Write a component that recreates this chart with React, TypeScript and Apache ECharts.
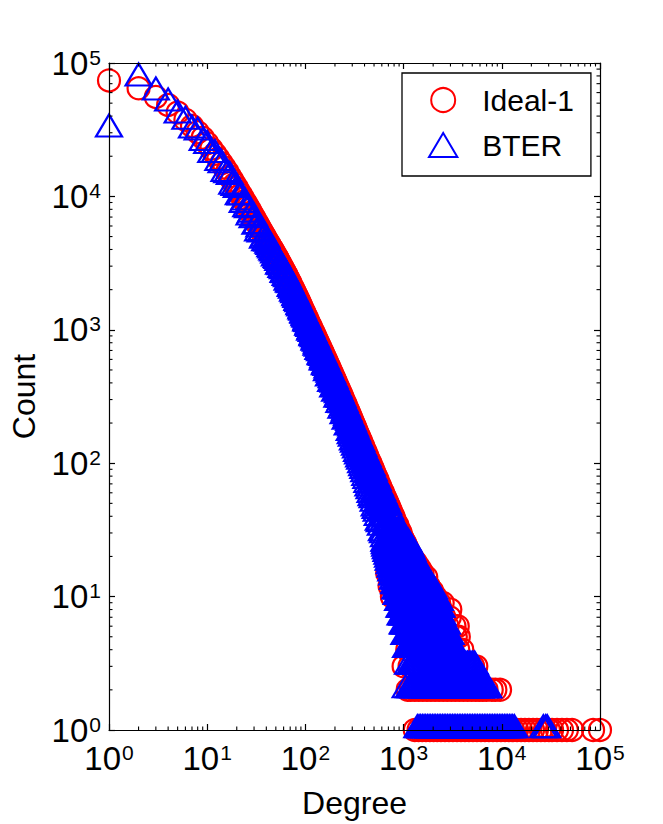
import React, { useEffect, useRef } from 'react';
import * as echarts from 'echarts';

const FONT = '"Liberation Sans", Arial, Helvetica, sans-serif';

// ---- axis ticks ----
const tickExponents = [0, 1, 2, 3, 4, 5];
const minorMantissas = [2, 3, 4, 5, 6, 7, 8, 9];
const minorDecades = [1, 10, 100, 1000, 10000];

// ---- head: individual low degrees ----
const headDegrees = [1, 2, 3, 4, 5, 6, 7, 8, 9, 10, 11, 12, 13, 14, 15, 16, 17, 18, 19, 20,
  21, 22, 23, 24, 25, 26, 27, 28, 29, 30, 31, 32, 33, 34, 35, 36, 37, 38, 39, 40];
const idealHeadCounts = [74000, 64600, 55600, 48400, 42500, 37600, 33700, 30300, 27500, 25000,
  22750, 20900, 19270, 17750, 16440, 15300, 14190, 13210, 12350, 11590,
  10890, 10280, 9730, 9230, 8770, 8330, 7930, 7570, 7230, 6920,
  6620, 6360, 6100, 5870, 5660, 5460, 5260, 5080, 4920, 4760];
const bterHeadCounts = [31900, 76900, 60400, 50000, 40600, 36500, 31300, 30300, 25300, 24000,
  20500, 20500, 17900, 17200, 14800, 14500, 14050, 11900, 11600, 11240,
  9910, 9870, 8660, 9050, 8070, 7910, 6980, 7340, 6650, 6850,
  5960, 6040, 5310, 5690, 5210, 5350, 4680, 4830, 4480, 4710];

// ---- body: dense band ----
const bodyDegrees = [41, 42, 43, 44, 45, 46, 47, 48, 50, 51,
  52, 53, 55, 56, 58, 59, 61, 62, 64, 65,
  67, 69, 70, 72, 74, 76, 78, 80, 82, 84,
  86, 88, 90, 92, 94, 97, 99, 102, 104, 107,
  109, 112, 115, 118, 121, 124, 127, 130, 133, 136,
  140, 143, 147, 150, 154, 158, 162, 166, 170, 174,
  178, 183, 187, 192, 197, 201, 206, 212, 217, 222,
  228, 233, 239, 245, 251, 257, 263, 270, 276, 283,
  290, 297, 305, 312, 320, 328, 336, 344, 353, 361,
  370, 379, 389, 398, 408, 418, 428, 439, 450, 461,
  472, 484, 496, 508, 520, 533, 546, 560, 573, 587,
  602, 617, 632, 647, 663, 680, 696, 714, 731, 749,
  768, 786, 806, 826, 846, 867, 888, 910, 932, 955,
  979, 1003];
const idealBodyCounts = [4610, 4480, 4350, 4220, 4110, 3995, 3890, 3790, 3600, 3505,
  3415, 3330, 3165, 3090, 2945, 2880, 2750, 2690, 2575, 2515,
  2404, 2300, 2250, 2158, 2071, 1990, 1914, 1841, 1770, 1703,
  1641, 1581, 1525, 1472, 1422, 1352, 1309, 1248, 1210, 1156,
  1122, 1075, 1030, 988, 950, 913, 879, 847, 816, 788,
  752, 727, 695, 673, 646, 619, 595, 571, 550, 529,
  509, 486, 469, 449, 431, 417, 399, 380, 365, 352,
  336, 324, 310, 297, 285, 274, 263, 251, 242, 231,
  222, 213, 203, 195, 187, 179, 171, 164, 157, 151,
  145, 139, 133, 127, 122, 117, 112, 107, 103, 99,
  95, 91, 87, 83, 80, 77, 74, 70, 68, 65,
  62, 60, 57, 55, 53, 51, 49, 47, 45, 43,
  41, 40, 38, 36, 35, 34, 32, 31, 30, 28,
  27, 26];
const bterBodyCounts = [4440, 4290, 4190, 4040, 3950, 3820, 3745, 3630, 3465, 3360,
  3290, 3190, 3045, 2960, 2835, 2760, 2645, 2575, 2478, 2410,
  2315, 2200, 2165, 2068, 1992, 1905, 1840, 1762, 1702, 1630,
  1580, 1512, 1468, 1408, 1368, 1294, 1260, 1194, 1165, 1106,
  1080, 1028, 992, 945, 915, 872, 846, 810, 786, 752,
  724, 695, 669, 643, 622, 591, 573, 545, 530, 505,
  490, 464, 452, 428, 415, 397, 385, 362, 352, 336,
  324, 309, 299, 283, 275, 261, 253, 239, 233, 220,
  214, 203, 196, 186, 180, 171, 165, 156, 151, 144,
  140, 132, 128, 121, 117, 111, 108, 102, 99, 94,
  92, 86, 84, 79, 77, 73, 71, 66, 65, 61,
  60, 57, 55, 52, 51, 48, 47, 44, 43, 40,
  39, 38, 36, 35, 34, 33, 31, 30, 29, 27,
  26, 25];
// middle scatter of the BTER band
const bterMidDegrees = [49, 54, 57, 60, 63, 66, 68, 71, 73, 75,
  77, 79, 81, 83, 85, 87, 89, 91, 93, 95,
  96, 98, 100, 103, 105, 108, 110, 113, 116, 119,
  122, 125, 128, 131, 134, 138, 141, 145, 148, 152,
  156, 160, 164, 168, 172, 176, 180, 185, 189, 194,
  199, 203, 209, 214, 219, 225, 230, 236, 242, 248,
  254, 260, 266, 273, 279, 286, 293, 301, 308, 316,
  324, 332, 340, 348, 357, 365, 374, 384, 393, 403,
  413, 423, 433, 444, 455, 466, 478, 490, 502, 514,
  526, 539, 553, 566, 580, 594, 609, 624, 639, 655,
  671, 688, 705, 722, 740, 758, 777, 796, 816, 836,
  856, 877, 899, 921, 943, 967, 991];
const bterMidCounts = [3440, 2990, 2820, 2590, 2460, 2265, 2200, 2030, 1975, 1870,
  1825, 1730, 1685, 1600, 1560, 1485, 1450, 1380, 1350, 1290,
  1282, 1228, 1200, 1143, 1109, 1048, 1018, 975, 935, 887,
  854, 821, 790, 762, 726, 693, 670, 640, 619, 594,
  569, 540, 519, 498, 480, 462, 440, 420, 406, 389,
  373, 361, 339, 325, 313, 299, 288, 273, 261, 250,
  240, 228, 219, 209, 201, 191, 183, 175, 167, 159,
  152, 145, 137, 132, 126, 120, 115, 110, 104, 99,
  95, 90, 87, 82, 79, 75, 72, 68, 65, 61,
  59, 56, 53, 50, 48, 46, 43, 42, 39, 38,
  36, 34, 33, 31, 29, 28, 26, 25, 24, 22,
  21, 20, 19, 18, 17, 16, 15];
// lower scatter of the BTER band
const bterLowerDegrees = [102, 107, 112, 118, 124, 130, 136, 143, 150, 158,
  166, 174, 183, 192, 201, 212, 222, 233, 245, 257, 270, 283,
  290, 297, 305, 312, 320, 328, 336, 344, 353, 361,
  370, 379, 389, 398, 408, 418, 428, 439, 450, 461,
  472, 484, 496, 508, 520, 533, 546, 560, 573, 587,
  602, 617, 632, 647, 663, 680, 696, 714, 731, 749,
  768, 786, 806, 826, 846, 867, 888, 910, 932, 955,
  979, 1003];
const bterLowerCounts = [1123, 1040, 957, 869, 803, 737, 686, 625, 572, 526,
  474, 434, 394, 359, 334, 300, 275, 249, 226, 206, 186, 169,
  160, 153, 144, 138, 131, 125, 118, 113, 107, 103,
  97, 92, 88, 83, 78, 74, 69, 65, 62, 58,
  55, 53, 50, 46, 44, 42, 39, 36, 35, 33,
  30, 29, 27, 25, 24, 22, 21, 20, 18, 17,
  16, 15, 14, 13, 12, 11, 10, 9, 8, 8,
  7, 6];

// ---- tail: low counts (count level -> degrees having that count) ----
const tailCountLevels = [1, 2, 3, 4, 5, 6, 7, 8, 9, 10, 11, 12, 13, 14, 15, 16, 17, 18, 19, 20, 21, 22, 23, 24, 25];
const idealTailDegrees = [
  [1300, 1420, 1550, 1690, 1850, 2020, 2200, 2400, 2640, 2900, 3180, 3500, 3840, 4220, 4630, 5090, 5590, 6140, 6740, 7400,
    8130, 8930, 9800, 10800, 11800, 13000, 14300, 15700, 17200, 18900, 20800, 22800, 25000, 27500, 30200, 32500, 36500,
    41000, 46000, 52000, 85000, 100000],
  [1100, 1180, 1300, 1430, 1570, 1730, 1900, 2090, 2300, 2530, 2780, 3060, 3360, 3700, 4070, 4480, 4930, 5420, 5900,
    6400, 7000, 7900, 8600, 9600],
  [1000, 1150, 1350, 1600, 1900, 2250, 2650, 3100, 3600, 4200, 4700, 5100, 5500],
  [1090, 1300, 1550, 1850, 2200, 2600, 3100, 3600, 3960],
  [1200, 1500, 1900, 2400, 2900, 3400, 3650],
  [1150, 1450, 1850, 2300, 2800, 3300, 3560],
  [1250, 1650, 2100, 2600, 2950],
  [1350, 1800, 2400, 2990],
  [1300, 1750, 2300, 2500],
  [760, 1250, 1700, 2100],
  [1200, 1600, 1950],
  [720, 1150, 1500, 1800],
  [1100, 1450],
  [1050, 1400, 1700],
  [680, 1000, 1350, 1560],
  [1300, 1480],
  [1250, 1400],
  [1200, 1330],
  [1150, 1260],
  [1100, 1200],
  [1060, 1150],
  [1030, 1120],
  [1010, 1090],
  [1005, 1060],
  [1000, 1040],
];
const bterTailDegrees = [
  [1381, 1436, 1493, 1553, 1615, 1680, 1747, 1817, 1890, 1965, 2044, 2126, 2211, 2299, 2391, 2487, 2586, 2690, 2797,
    2909, 3026, 3147, 3272, 3403, 3539, 3681, 3828, 3981, 4141, 4306, 4479, 4658, 4844, 5038, 5240, 5449, 5667, 5894,
    6130, 6375, 6630, 6895, 7171, 7458, 7756, 8066, 8389, 8724, 9073, 9436, 9814, 10206, 10614, 11039, 11481, 11940,
    12417, 12914, 13431, 26500, 28000, 29000],
  [1050, 1135, 1180, 1227, 1277, 1328, 1381, 1436, 1493, 1553, 1615, 1680, 1747, 1817, 1890, 1965, 2044, 2126, 2211,
    2299, 2391, 2487, 2586, 2690, 2797, 2909, 3026, 3147, 3272, 3403, 3539, 3681, 3828, 3981, 4141, 4306, 4479, 4658,
    4844, 5038, 5240, 5449, 5667, 5894, 6130, 6375, 6630, 6895, 7171, 7280],
  [1110, 1180, 1227, 1277, 1328, 1381, 1436, 1493, 1553, 1615, 1680, 1747, 1817, 1890, 1965, 2044, 2126, 2211, 2299,
    2391, 2487, 2586, 2690, 2797, 2909, 3026, 3147, 3272, 3403, 3539, 3681, 3828, 3981, 4141, 4306, 4479, 4658, 4844,
    5038, 5240, 5300],
  [1060, 1091, 1135, 1180, 1227, 1277, 1328, 1381, 1436, 1493, 1553, 1615, 1680, 1747, 1817, 1890, 1965, 2044, 2126,
    2211, 2299, 2391, 2487, 2586, 2690, 2797, 2909, 3026, 3147, 3272, 3360],
  [1020, 1049, 1091, 1135, 1180, 1227, 1277, 1328, 1381, 1436, 1493, 1553, 1615, 1680, 1747, 1817, 1890, 1965, 2044,
    2126, 2211, 2299, 2391, 2487, 2586, 2690, 2797, 2909, 3000],
  [980, 1009, 1049, 1091, 1135, 1180, 1227, 1277, 1328, 1381, 1436, 1493, 1553, 1615, 1680, 1747, 1817, 1890, 1965,
    2044, 2126, 2211, 2299, 2391, 2487, 2586, 2690, 2750],
  [933, 970, 1009, 1049, 1091, 1135, 1180, 1227, 1277, 1328, 1381, 1436, 1493, 1553, 1615, 1680, 1747, 1817, 1890,
    1965, 2044, 2126, 2211, 2299, 2391, 2487],
  [910, 933, 970, 1009, 1049, 1091, 1135, 1180, 1227, 1277, 1328, 1381, 1436, 1493, 1553, 1615, 1680, 1747, 1817,
    1890, 1965, 2044, 2126, 2211, 2299, 2391, 2420],
  [880, 897, 933, 970, 1009, 1049, 1091, 1135, 1180, 1227, 1277, 1328, 1381, 1436, 1493, 1553, 1615, 1680, 1747,
    1817, 1890, 1965, 2044, 2126, 2211, 2299, 2330],
  [850, 880, 915, 950, 990, 1030, 1070, 1110, 1155, 1200, 1250, 1300, 1350, 1405, 1460, 1520, 1580, 1645, 1710, 1780,
    1850, 1925, 2000, 2080, 2140],
  [825, 875, 927, 983, 1042, 1104, 1170, 1241, 1315, 1394, 1478, 1566, 1660, 1760, 1866, 1978, 2040],
  [800, 848, 899, 953, 1010, 1071, 1135, 1203, 1275, 1352, 1433, 1519, 1610, 1707, 1809, 1860],
  [780, 827, 876, 929, 985, 1044, 1106, 1173, 1243, 1318, 1397, 1481, 1570, 1664, 1780],
  [765, 811, 860, 911, 966, 1024, 1085, 1150, 1219, 1292, 1370, 1452, 1539, 1620],
  [750, 795, 843, 893, 947, 1004, 1064, 1128, 1195, 1267, 1343, 1424, 1520],
  [735, 808, 889, 978, 1076, 1184, 1302, 1450],
  [720, 792, 871, 958, 1054, 1159, 1275, 1400],
  [705, 776, 853, 938, 1032, 1135, 1249, 1350],
  [695, 765, 841, 925, 1018, 1120, 1232, 1300],
  [685, 754, 829, 912, 1003, 1103, 1214, 1260],
  [670, 737, 811, 892, 981, 1079, 1187, 1230],
  [660, 726, 799, 879, 967, 1064, 1170, 1200],
  [650, 715, 787, 865, 952, 1047, 1170],
  [645, 710, 781, 859, 945, 1039, 1140],
  [638, 702, 772, 849, 934, 1027, 1110],
];

const RED = '#ff0000';
const BLUE = '#0000ff';
const MARKER_LINE = 2.2;

function pairs(degrees: number[], counts: number[]) {
  return degrees.map((d, i) => [d, counts[i]]);
}
function tailPairs(tail: number[][]) {
  const out: number[][] = [];
  tailCountLevels.forEach((k, i) => tail[i].forEach((d) => out.push([d, k])));
  return out;
}

const idealData = [
  ...pairs(headDegrees, idealHeadCounts),
  ...pairs(bodyDegrees, idealBodyCounts),
  ...tailPairs(idealTailDegrees),
];
const bterData = [
  ...pairs(headDegrees, bterHeadCounts),
  ...pairs(bodyDegrees, bterBodyCounts),
  ...pairs(bterMidDegrees, bterMidCounts),
  ...pairs(bterLowerDegrees, bterLowerCounts),
  ...tailPairs(bterTailDegrees),
];

const decadeLabel = (v: number) => {
  const e = Math.round(Math.log10(v));
  return tickExponents.includes(e) ? `{b|10}{s|${e}}` : '';
};

const labelRich = {
  b: { fontSize: 33, fontFamily: FONT, color: '#000', lineHeight: 33, verticalAlign: 'bottom' },
  s: { fontSize: 21, fontFamily: FONT, color: '#000', lineHeight: 21, verticalAlign: 'top', padding: [0, 0, 0, 1] },
};

const TRIANGLE_ICON = 'path://M13,0L26,22L0,22Z';

export default function App() {
  const ref = useRef<HTMLDivElement>(null);
  useEffect(() => {
    if (!ref.current) return;
    const chart = echarts.init(ref.current, null, { renderer: 'svg' });

    const minorValues: number[] = [];
    minorDecades.forEach((d) => minorMantissas.forEach((m) => minorValues.push(m * d)));

    const axisBase: any = {
      type: 'log',
      logBase: 10,
      min: 1,
      max: 100000,
      splitNumber: 5,
      z: 10,
      axisLine: { show: true, onZero: false, lineStyle: { color: '#000', width: 1.2 } },
      axisTick: { show: true, inside: true, length: 6, lineStyle: { color: '#000', width: 1.2 } },
      splitLine: { show: false },
      minorTick: { show: false },
      minorSplitLine: { show: false },
    };

    const tickLine = (x1: number, y1: number, x2: number, y2: number) => ({
      type: 'line',
      shape: { x1, y1, x2, y2 },
      style: { stroke: '#000', lineWidth: 1.1 },
    });

    const option: any = {
      animation: false,
      backgroundColor: '#fff',
      grid: { left: 108, top: 63, width: 492, height: 670, containLabel: false },
      legend: {
        show: true,
        orient: 'vertical',
        left: 402,
        top: 73,
        padding: [12, 17, 16, 26],
        itemGap: 15,
        itemWidth: 68,
        itemHeight: 24,
        borderColor: '#000',
        borderWidth: 1.3,
        borderRadius: 0,
        backgroundColor: '#fff',
        selectedMode: false,
        symbolKeepAspect: true,
        textStyle: { fontSize: 30, fontFamily: FONT, color: '#000' },
        data: [
          { name: 'Ideal-1', icon: 'circle', itemStyle: { color: 'rgba(0,0,0,0)', borderColor: RED, borderWidth: 2 } },
          { name: 'BTER', icon: TRIANGLE_ICON, itemStyle: { color: 'rgba(0,0,0,0)', borderColor: BLUE, borderWidth: 2 } },
        ],
      },
      xAxis: [
        {
          ...axisBase,
          position: 'bottom',
          name: 'Degree',
          nameLocation: 'middle',
          nameGap: 57,
          nameTextStyle: { fontSize: 32, fontFamily: FONT, color: '#000' },
          axisLabel: {
            show: true, margin: 12, formatter: decadeLabel, rich: labelRich,
            showMinLabel: true, showMaxLabel: true, hideOverlap: false,
          },
        },
        { ...axisBase, position: 'top', axisLabel: { show: false } },
      ],
      yAxis: [
        {
          ...axisBase,
          position: 'left',
          name: 'Count',
          nameLocation: 'middle',
          nameGap: 69,
          nameTextStyle: { fontSize: 32, fontFamily: FONT, color: '#000' },
          axisLabel: {
            show: true, margin: 8, formatter: decadeLabel, rich: labelRich,
            showMinLabel: true, showMaxLabel: true, hideOverlap: false,
          },
        },
        { ...axisBase, position: 'right', axisLabel: { show: false } },
      ],
      series: [
        {
          name: 'Ideal-1',
          type: 'scatter',
          xAxisIndex: 0,
          yAxisIndex: 0,
          symbol: 'circle',
          symbolSize: 22,
          clip: false,
          silent: true,
          emphasis: { disabled: true },
          itemStyle: { color: 'rgba(0,0,0,0)', borderColor: RED, borderWidth: MARKER_LINE, opacity: 1 },
          data: idealData,
          z: 2,
        },
        {
          name: 'BTER',
          type: 'scatter',
          xAxisIndex: 0,
          yAxisIndex: 0,
          symbol: 'triangle',
          symbolSize: [26, 22],
          symbolOffset: [0, -3.7],
          clip: false,
          silent: true,
          emphasis: { disabled: true },
          itemStyle: { color: 'rgba(0,0,0,0)', borderColor: BLUE, borderWidth: MARKER_LINE, opacity: 1 },
          data: bterData,
          z: 3,
        },
        {
          name: 'xMinorTicks',
          type: 'custom',
          xAxisIndex: 0,
          yAxisIndex: 0,
          silent: true,
          clip: false,
          z: 12,
          data: minorValues.map((v) => [v, 1]),
          renderItem: (params: any, api: any) => {
            const v = api.value(0);
            const pb = api.coord([v, 1]);
            const pt = api.coord([v, 100000]);
            return {
              type: 'group',
              children: [tickLine(pb[0], pb[1], pb[0], pb[1] - 3.5), tickLine(pt[0], pt[1], pt[0], pt[1] + 3.5)],
            };
          },
        },
        {
          name: 'yMinorTicks',
          type: 'custom',
          xAxisIndex: 0,
          yAxisIndex: 0,
          silent: true,
          clip: false,
          z: 12,
          data: minorValues.map((v) => [1, v]),
          renderItem: (params: any, api: any) => {
            const v = api.value(1);
            const pl = api.coord([1, v]);
            const pr = api.coord([100000, v]);
            return {
              type: 'group',
              children: [tickLine(pl[0], pl[1], pl[0] + 3.5, pl[1]), tickLine(pr[0], pr[1], pr[0] - 3.5, pr[1])],
            };
          },
        },
      ],
    };

    chart.setOption(option);
    return () => chart.dispose();
  }, []);

  return (
    <div
      ref={ref}
      style={{ position: 'absolute', left: 0, top: 0, width: 663, height: 824, background: '#fff' }}
    />
  );
}
